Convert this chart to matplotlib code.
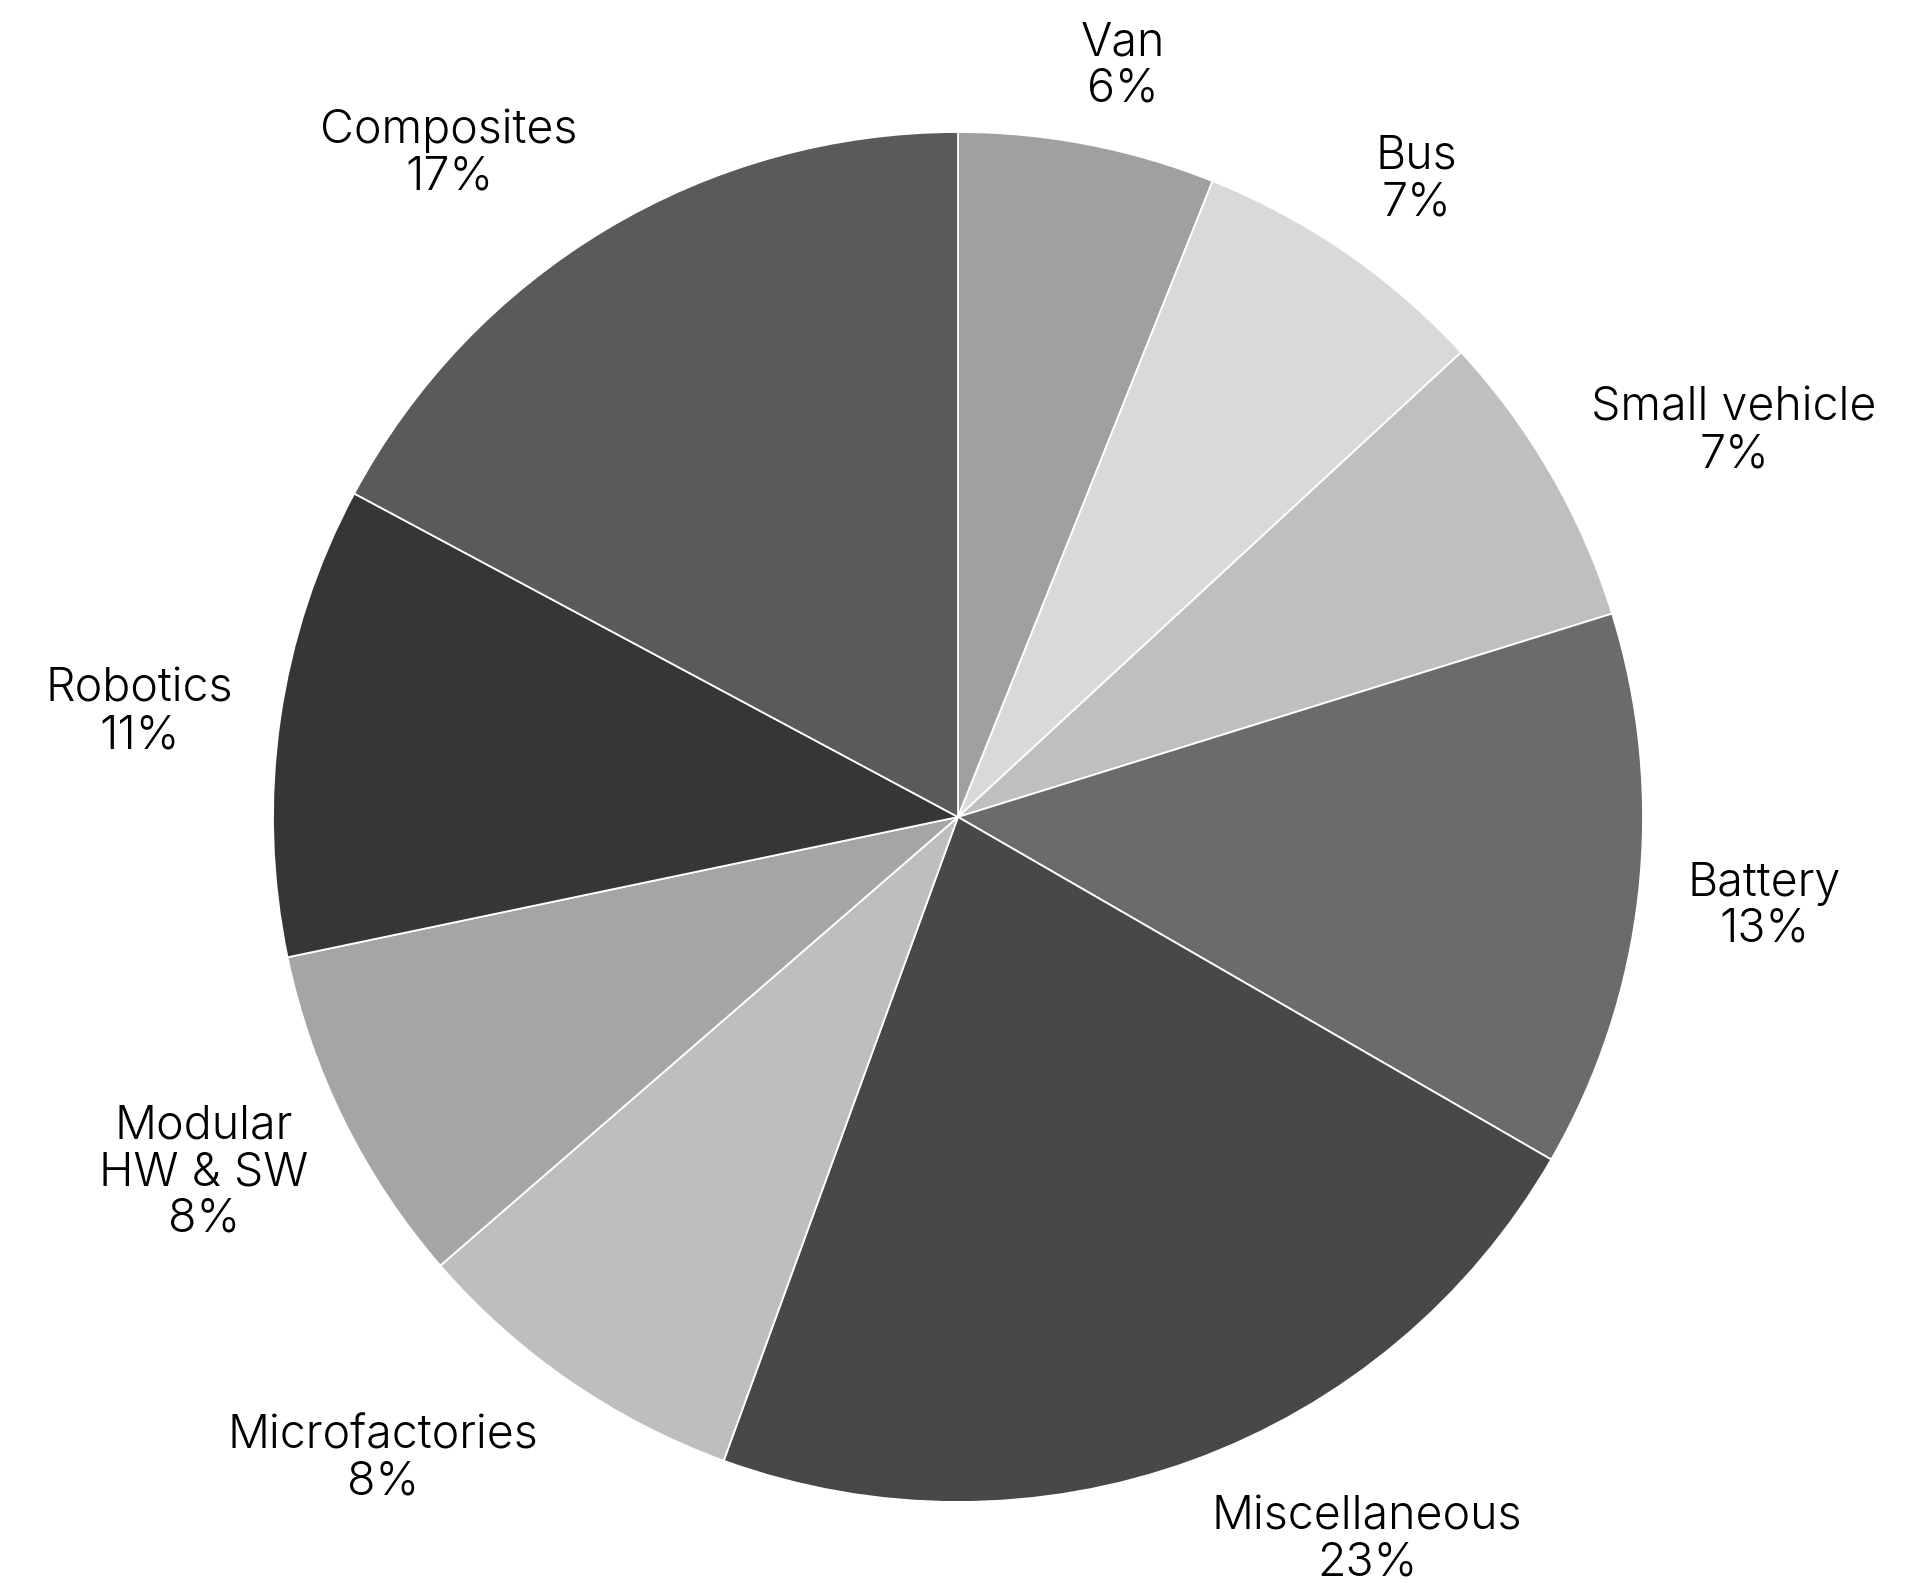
import matplotlib
matplotlib.use("Agg")
import matplotlib.pyplot as plt

# ----- data ----------------------------------------------------------
LABELS = ["Van", "Bus", "Small vehicle", "Battery", "Miscellaneous",
          "Microfactories", "Modular\nHW & SW", "Robotics", "Composites"]
# wedge sizes (counts, 99 in all) and the percent text printed beside them
COUNTS = [6, 7, 7, 13, 22, 8, 8, 11, 17]
PCT_TEXT = ["6%", "7%", "7%", "13%", "23%", "8%", "8%", "11%", "17%"]
COLORS = ["#a0a0a0", "#d9d9d9", "#bfbfbf", "#6b6b6b", "#484848",
          "#bebebe", "#a5a5a5", "#363636", "#5a5a5a"]

# label centres, in units of the pie radius
LABEL_POS = [(0.241, 1.096), (0.669, 0.930), (1.133, 0.562),
             (1.177, -0.131), (0.597, -1.056), (-0.840, -0.938),
             (-1.101, -0.520), (-1.195, 0.152), (-0.743, 0.968)]

W, H, DPI = 1926, 1583, 100
CX, CY, R = 958, 817, 685   # pie centre / radius in pixels

plt.rcParams["font.family"] = ["Inter", "DejaVu Sans"]

fig = plt.figure(figsize=(W / DPI, H / DPI), dpi=DPI)
ax = fig.add_axes([0, 0, 1, 1])

ax.pie(COUNTS, colors=COLORS, startangle=90, counterclock=False,
       radius=1.0, wedgeprops={"edgecolor": "white", "linewidth": 1.3})

ax.set_xlim(-CX / R, (W - CX) / R)
ax.set_ylim(-(H - CY) / R, CY / R)
ax.set_aspect("equal", adjustable="datalim")
ax.axis("off")

for lab, pct, (x, y) in zip(LABELS, PCT_TEXT, LABEL_POS):
    ax.text(x, y, f"{lab}\n{pct}", ha="center", va="center",
            fontsize=33.5, fontweight=300, color="black", linespacing=1.07)

fig.savefig("out.png", dpi=DPI, facecolor="white")
